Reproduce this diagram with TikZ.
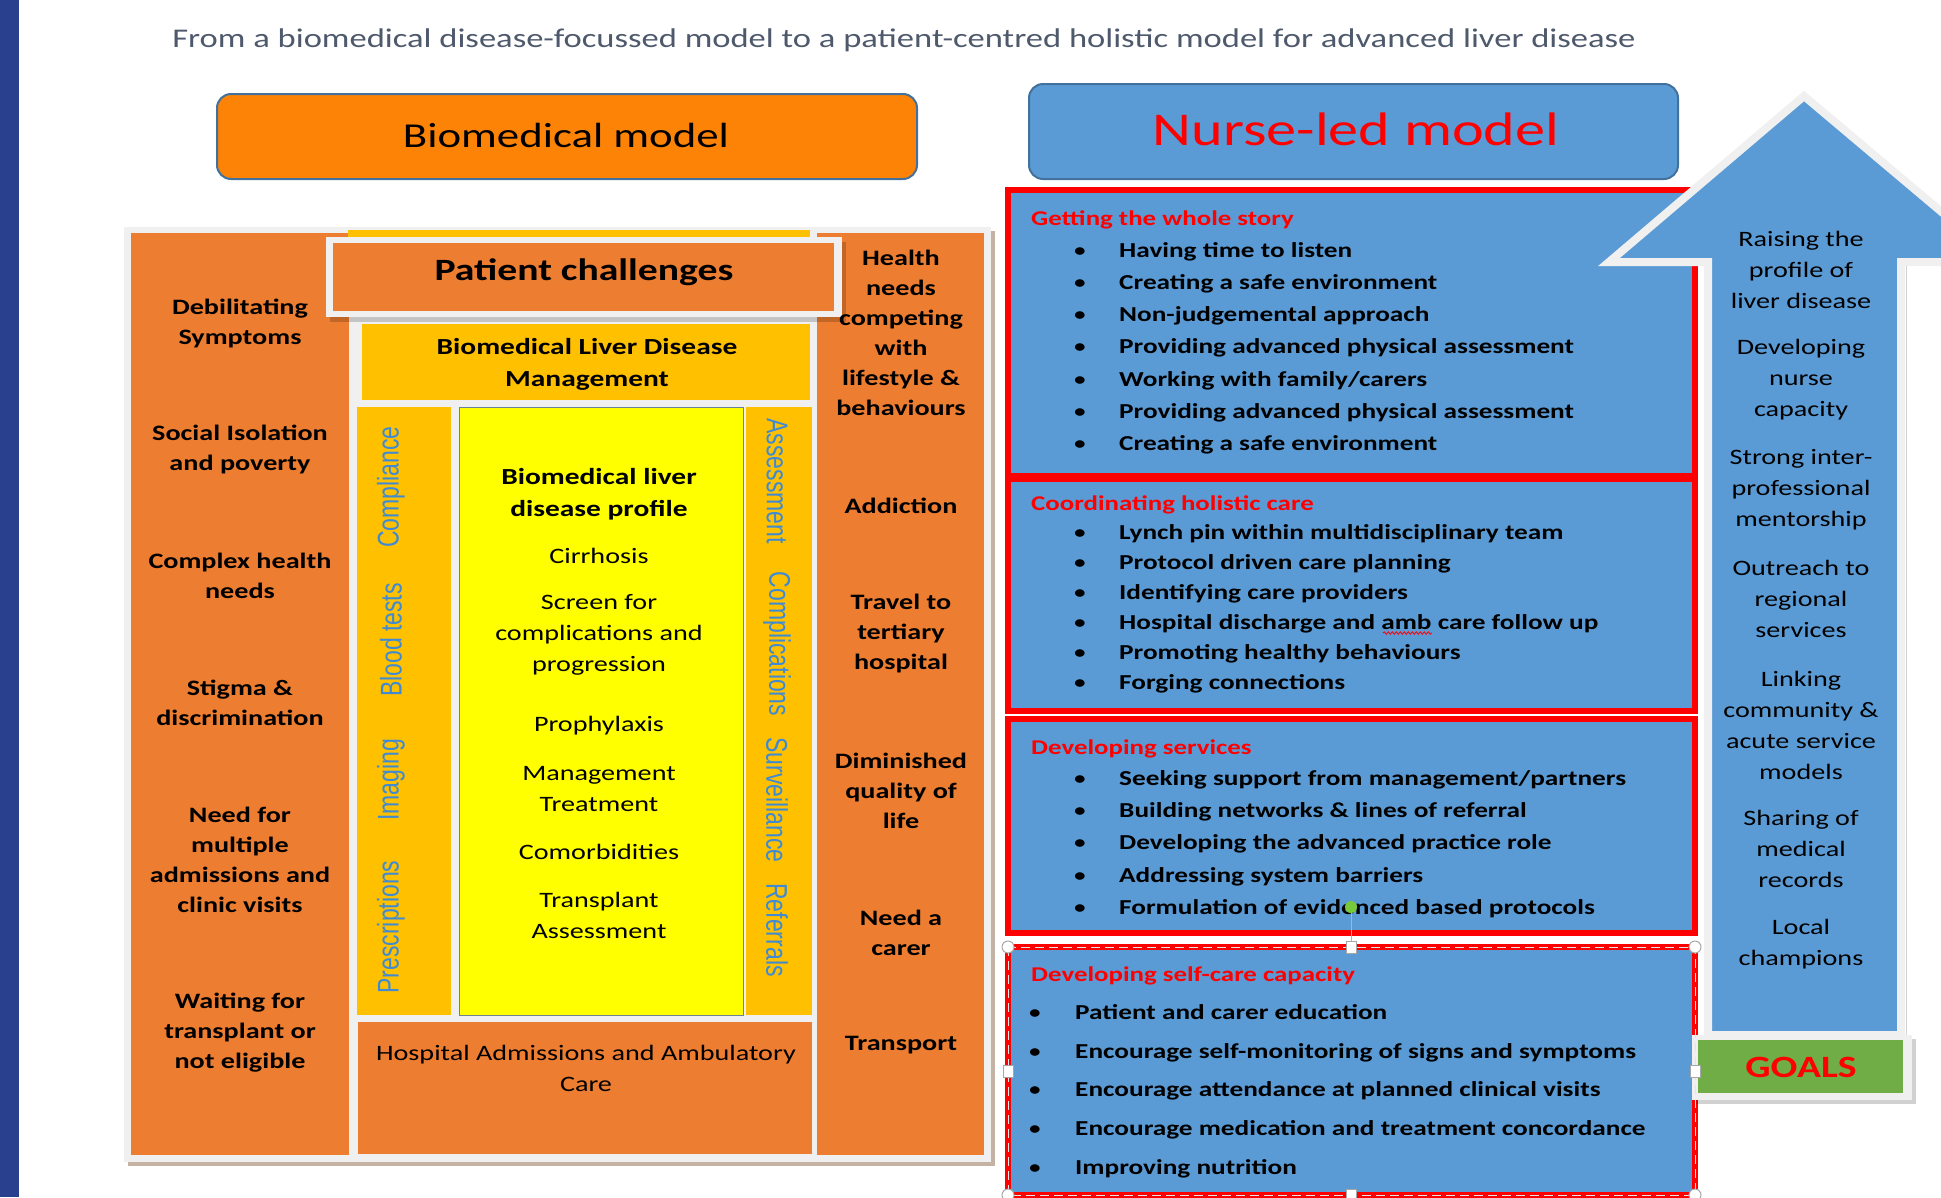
\documentclass[tikz,border=0pt]{standalone}
\usepackage{fontspec}
\setmainfont{Carlito}[FakeStretch=1.28]
\newfontfamily\rotfont{Liberation Sans}
\usepackage{tikz}
\usetikzlibrary{positioning,decorations.pathmorphing}

\definecolor{darkbar}{RGB}{41,64,143}
\definecolor{titlegray}{RGB}{78,89,108}
\definecolor{bioorange}{RGB}{252,131,5}
\definecolor{panelorange}{RGB}{237,125,49}
\definecolor{amber}{RGB}{255,192,0}
\definecolor{liveryellow}{RGB}{255,255,0}
\definecolor{yellowedge}{RGB}{110,130,150}
\definecolor{nurseblue}{RGB}{91,155,213}
\definecolor{modeledge}{RGB}{65,113,156}
\definecolor{framegray}{RGB}{240,240,240}
\definecolor{shadowtone}{RGB}{196,178,164}
\definecolor{rotblue}{RGB}{62,138,212}
\definecolor{goalgreen}{RGB}{112,173,71}
\definecolor{handlegreen}{RGB}{120,200,60}

\tikzset{
  titletext/.style={font=\fontsize{27}{32}\selectfont, text=titlegray, inner sep=0},
  colbold/.style={font=\fontsize{22}{30}\selectfont\bfseries, align=center, inner sep=0},
  midtext/.style={font=\fontsize{22}{31}\selectfont, align=center, inner sep=0},
  midbold/.style={font=\fontsize{23}{32}\selectfont\bfseries, align=center, inner sep=0},
  rottext/.style={font=\rotfont\fontsize{23}{28}\selectfont, text=rotblue, inner sep=0},
  headtext/.style={font=\fontsize{21}{26}\selectfont\bfseries, text=red, anchor=mid west, inner sep=0},
  itemtext/.style={font=\fontsize{21.3}{26}\selectfont\bfseries, anchor=mid west, inner sep=0},
  bulletdot/.style={font=\fontsize{21.3}{26}\selectfont, anchor=mid, inner sep=0},
  arrowtext/.style={font=\fontsize{22}{31}\selectfont, align=center, inner sep=0},
  redbox/.style={fill=nurseblue, draw=red, line width=6pt},
  handlecirc/.style={fill=white, draw=gray!70, line width=1pt},
  handlesq/.style={fill=white, draw=gray!70, line width=1pt},
}

\begin{document}
\begin{tikzpicture}[x=1pt, y=-1pt]
\useasboundingbox (0,0) rectangle (1941,1197);
\begin{scope}
\clip (0,0) rectangle (1941,1197);
% Background and title:
\fill[darkbar] (0,0) rectangle (19,1197);
\node[titletext] (title) at (904,40) {From a biomedical disease-focussed model to a patient-centred holistic model for advanced liver disease};

% Model headers:
\draw[fill=bioorange, draw=modeledge, line width=2pt, rounded corners=14pt] (217,94) rectangle (917,179);
\node[font=\fontsize{35}{40}\selectfont, inner sep=0] (biohead) at (566,135) {Biomedical model};
\draw[fill=nurseblue, draw=modeledge, line width=2pt, rounded corners=14pt] (1029,84) rectangle (1678,179);
\node[font=\fontsize{47}{52}\selectfont, text=red, inner sep=0] (nursehead) at (1356,129) {Nurse-led model};

% Biomedical panel:
\fill[shadowtone] (128,231) rectangle (995,1166);
\fill[framegray] (124,227) rectangle (991,1162);
\fill[panelorange] (131,233) rectangle (349,1155);
\fill[panelorange] (817,233) rectangle (984,1155);
\fill[amber] (348,230) rectangle (810,240);
\fill[black, opacity=0.18] (330,242) rectangle (846,322);
\fill[framegray] (326,237) rectangle (842,317);
\fill[panelorange] (333,243) rectangle (834,311);
\fill[amber] (362,324) rectangle (810,400);
\fill[amber] (357,407) rectangle (451,1015);
\draw[fill=liveryellow, draw=yellowedge, line width=1pt] (459,407) rectangle (743,1015);
\fill[amber] (746,407) rectangle (812,1015);
\fill[panelorange] (358,1022) rectangle (812,1154);

\node[font=\fontsize{31}{36}\selectfont\bfseries, inner sep=0] (challenges) at (584,272) {Patient challenges};
\node[midbold] (bldm) at (587,364) {Biomedical Liver Disease\\Management};

% left column
\node[colbold] (debil) at (240,323) {Debilitating\\Symptoms};
\node[colbold] (social) at (240,449) {Social Isolation\\and poverty};
\node[colbold] (complex) at (240,576) {Complex health\\needs};
\node[colbold] (stigma) at (240,703) {Stigma \&\\discrimination};
\node[colbold] (admiss) at (240,860) {Need for\\multiple\\admissions and\\clinic visits};
\node[colbold] (waiting) at (240,1033) {Waiting for\\transplant or\\not eligible};

% right column
\node[colbold] (lifestyle) at (901,333) {Health\\needs\\competing\\with\\lifestyle \&\\behaviours};
\node[colbold] (addict) at (901,506) {Addiction};
\node[colbold] (travel) at (901,634) {Travel to\\tertiary\\hospital};
\node[colbold] (quality) at (901,791) {Diminished\\quality of\\life};
\node[colbold] (carer) at (901,933) {Need a\\carer};
\node[colbold] (transport) at (901,1045) {Transport};

% centre profile
\node[midbold] (profile) at (599,494) {Biomedical liver\\disease profile};
\node[midtext] (cirr) at (599,556) {Cirrhosis};
\node[midtext] (screen) at (599,635) {Screen for\\complications and\\progression};
\node[midtext] (proph) at (599,726) {Prophylaxis};
\node[midtext] (manage) at (599,789) {Management\\Treatment};
\node[midtext] (comorb) at (599,852) {Comorbidities};
\node[midtext] (transpl) at (599,915) {Transplant\\Assessment};
\node[midtext] (hospital) at (586,1068) {Hospital Admissions and Ambulatory\\Care};

% side strips
\node[rottext, rotate=90] (compl) at (391,487) {\scalebox{1}[1.3]{Compliance}};
\node[rottext, rotate=90] (blood) at (391,640) {\scalebox{1}[1.3]{Blood tests}};
\node[rottext, rotate=90] (imaging) at (391,780) {\scalebox{1}[1.3]{Imaging}};
\node[rottext, rotate=90] (prescr) at (391,927) {\scalebox{1}[1.3]{Prescriptions}};
\node[rottext, rotate=-90] (assess) at (777,481) {\scalebox{1}[1.3]{Assessment}};
\node[rottext, rotate=-90] (complic) at (777,644) {\scalebox{1}[1.3]{Complications}};
\node[rottext, rotate=-90] (surv) at (777,800) {\scalebox{1}[1.3]{Surveillance}};
\node[rottext, rotate=-90] (refer) at (777,930) {\scalebox{1}[1.3]{Referrals}};

% Nurse-led boxes:
\draw[redbox] (1008,190) rectangle (1695,476);
\draw[redbox] (1008,479) rectangle (1695,711);
\draw[redbox] (1008,719) rectangle (1695,933);
\draw[redbox] (1008,947) rectangle (1695,1195);

\node[headtext] (story) at (1031,223) {Getting the whole story};
\foreach \txt [count=\i] in {Having time to listen, Creating a safe environment, Non-judgemental approach, Providing advanced physical assessment, Working with family/carers, Providing advanced physical assessment, Creating a safe environment}
  {
  \node[bulletdot] (storyb\i) at (1080,{255+32.2*(\i-1)}) {\textbullet};
  \node[itemtext] (story\i) at (1119,{255+32.2*(\i-1)}) {\txt};
  }

\node[headtext] (holistic) at (1031,508) {Coordinating holistic care};
\foreach \txt [count=\i] in {Lynch pin within multidisciplinary team, Protocol driven care planning, Identifying care providers, Hospital discharge and amb care follow up, Promoting healthy behaviours, Forging connections}
  {
  \node[bulletdot] (holisticb\i) at (1080,{537+30*(\i-1)}) {\textbullet};
  \node[itemtext] (holistic\i) at (1119,{537+30*(\i-1)}) {\txt};
  }
% spell-check squiggle under "amb"
\draw[red, line width=0.8pt, decorate, decoration={snake, amplitude=1.2pt, segment length=4pt}] (1383,633) -- (1432,633);

\node[headtext] (services) at (1031,752) {Developing services};
\foreach \txt [count=\i] in {Seeking support from management/partners, Building networks \& lines of referral, Developing the advanced practice role, Addressing system barriers, Formulation of evidenced based protocols}
  {
  \node[bulletdot] (servicesb\i) at (1080,{783+32.2*(\i-1)}) {\textbullet};
  \node[itemtext] (services\i) at (1119,{783+32.2*(\i-1)}) {\txt};
  }

\node[headtext] (selfcare) at (1031,979) {Developing self-care capacity};
\foreach \txt [count=\i] in {Patient and carer education, Encourage self-monitoring of signs and symptoms, Encourage attendance at planned clinical visits, Encourage medication and treatment concordance, Improving nutrition}
  {
  \node[bulletdot] (selfcareb\i) at (1035,{1017+38.75*(\i-1)}) {\textbullet};
  \node[itemtext] (selfcare\i) at (1075,{1017+38.75*(\i-1)}) {\txt};
  }

% Goals arrow:
\draw[fill=nurseblue, draw=framegray, line width=8pt, line join=miter]
  (1804,96) -- (2001,262) -- (1901,262) -- (1901,1035) -- (1708,1035) -- (1708,262) -- (1609,262) -- cycle;
\draw[gray!35, line width=1pt] (1906,266) -- (1906,1035);

\node[arrowtext] (raising) at (1801,270) {Raising the\\profile of\\liver disease};
\node[arrowtext] (capacity) at (1801,380) {Developing\\nurse\\capacity};
\node[arrowtext] (mentor) at (1801,490) {Strong inter-\\professional\\mentorship};
\node[arrowtext] (outreach) at (1801,599) {Outreach to\\regional\\services};
\node[arrowtext] (linking) at (1801,725) {Linking\\community \&\\acute service\\models};
\node[arrowtext] (records) at (1801,849) {Sharing of\\medical\\records};
\node[arrowtext] (champ) at (1801,944) {Local\\champions};

\fill[black, opacity=0.18] (1695,1039) rectangle (1916,1104);
\fill[framegray] (1692,1035) rectangle (1912,1100);
\fill[goalgreen] (1698,1040) rectangle (1903,1093);
\node[font=\fontsize{31}{36}\selectfont\bfseries, text=red, inner sep=0] (goals) at (1801,1067) {GOALS};

% selection handles on the last box
\draw[white!80!gray, line width=1pt, dash pattern=on 9pt off 5pt] (1008,947) rectangle (1695,1195);
\draw[gray!60, line width=0.8pt] (1351,913) -- (1351,941);
\fill[handlegreen] (1351,907) circle (6pt);
\foreach \hx in {1008,1695}
  \foreach \hy in {947,1195}
    \draw[handlecirc] (\hx,\hy) circle (6pt);
\draw[handlesq] (1346,941) rectangle (1356,953);
\draw[handlesq] (1346,1189) rectangle (1356,1201);
\draw[handlesq] (1003,1065) rectangle (1013,1077);
\draw[handlesq] (1690,1065) rectangle (1700,1077);
\end{scope}
\end{tikzpicture}
\end{document}
